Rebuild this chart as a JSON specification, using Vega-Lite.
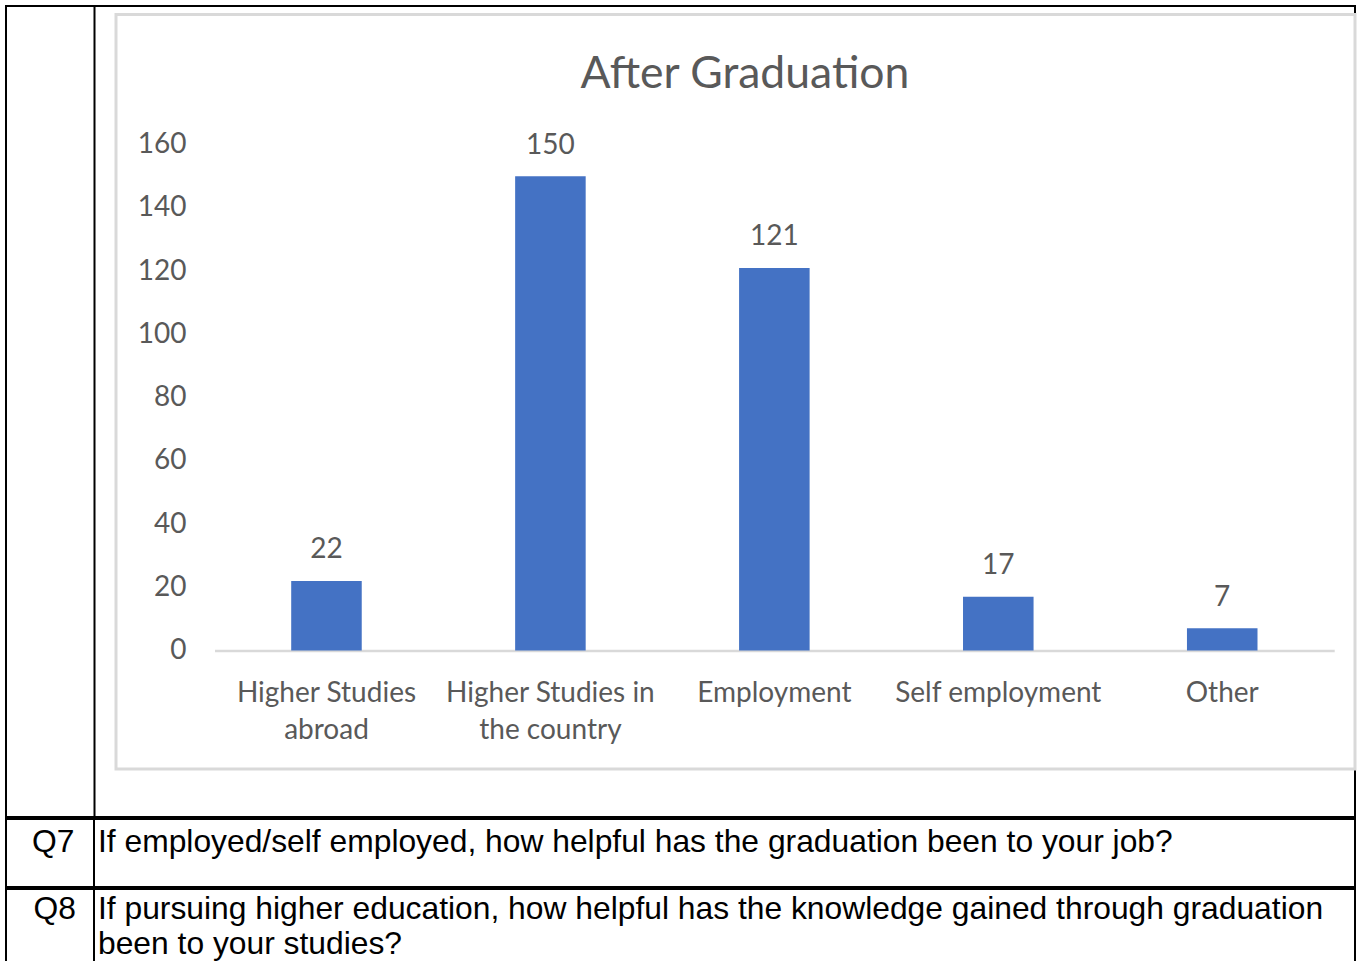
{
  "$schema": "https://vega.github.io/schema/vega-lite/v6.json",
  "padding": {"left": 5, "top": 5, "right": 0, "bottom": 0},
  "spacing": 0,
  "config": {
    "view": {"stroke": "black", "strokeWidth": 2},
    "font": "Lato"
  },
  "vconcat": [
    {
      "width": 1349,
      "height": 811,
      "title": {
        "text": "After Graduation",
        "anchor": "middle",
        "frame": "group",
        "offset": -126,
        "dx": 64.5,
        "baseline": "alphabetic",
        "font": "Lato",
        "fontSize": 44.5,
        "fontWeight": "normal",
        "color": "#595959"
      },
      "resolve": {"scale": {"x": "independent", "y": "independent"}},
      "layer": [
        {
          "data": {"values": [{"part": "chart area"}]},
          "mark": {"type": "rect", "filled": false, "stroke": "#d9d9d9", "strokeWidth": 3},
          "encoding": {
            "x": {"datum": 0, "type": "quantitative", "scale": {"domain": [0, 1], "range": [110, 1349], "zero": false, "nice": false}, "axis": null},
            "x2": {"datum": 1},
            "y": {"datum": 0, "type": "quantitative", "scale": {"domain": [0, 1], "range": [763, 8.5], "zero": false, "nice": false}, "axis": null},
            "y2": {"datum": 1}
          }
        },
        {
          "data": {
            "values": [
              {"category": "Higher Studies abroad", "count": 22},
              {"category": "Higher Studies in the country", "count": 150},
              {"category": "Employment", "count": 121},
              {"category": "Self employment", "count": 17},
              {"category": "Other", "count": 7}
            ]
          },
          "encoding": {
            "x": {
              "field": "category",
              "type": "nominal",
              "sort": null,
              "scale": {"range": [208.5, 1328.2], "paddingInner": 0.685, "paddingOuter": 0.3425},
              "axis": {
                "orient": "bottom",
                "offset": -166.5,
                "title": null,
                "domainColor": "#d9d9d9",
                "domainWidth": 2.5,
                "ticks": false,
                "tickSize": 0,
                "grid": false,
                "labelPadding": 50.5,
                "labelBaseline": "alphabetic",
                "labelAngle": 0,
                "labelFont": "Lato",
                "labelFontSize": 28,
                "labelColor": "#595959",
                "labelLimit": 0,
                "labelOverlap": false,
                "labelLineHeight": 37,
                "labelExpr": "datum.value == 'Higher Studies abroad' ? ['Higher Studies', 'abroad'] : datum.value == 'Higher Studies in the country' ? ['Higher Studies in', 'the country'] : datum.label"
              }
            },
            "y": {
              "field": "count",
              "type": "quantitative",
              "scale": {"domain": [-52.66, 203.83], "nice": false, "zero": false},
              "axis": {
                "orient": "left",
                "offset": -88,
                "values": [0, 20, 40, 60, 80, 100, 120, 140, 160],
                "title": null,
                "domainColor": "black",
                "domainWidth": 2,
                "ticks": false,
                "tickSize": 0,
                "grid": false,
                "labelPadding": -92,
                "labelAlign": "right",
                "labelBaseline": "middle",
                "labelFlush": false,
                "labelOverlap": false,
                "labelFont": "Lato",
                "labelFontSize": 28,
                "labelColor": "#595959"
              }
            }
          },
          "layer": [
            {
              "mark": {"type": "bar", "color": "#4472C4"},
              "encoding": {"y2": {"datum": 0}}
            },
            {
              "mark": {"type": "text", "baseline": "alphabetic", "align": "center", "dy": -22.5, "font": "Lato", "fontSize": 28, "color": "#595959"},
              "encoding": {"text": {"field": "count", "type": "quantitative"}}
            }
          ]
        }
      ]
    },
    {
      "spacing": 0,
      "bounds": "flush",
      "hconcat": [
        {
          "width": 88,
          "height": 68,
          "data": {"values": [{"label": "Q7"}]},
          "mark": {"type": "text", "align": "right", "baseline": "alphabetic", "dx": -19.5, "dy": 33, "font": "Liberation Sans", "fontSize": 31.8, "color": "black"},
          "encoding": {
            "text": {"field": "label"},
            "x": {"datum": 1, "type": "quantitative", "scale": {"domain": [0, 1]}, "axis": null},
            "y": {"datum": 1, "type": "quantitative", "scale": {"domain": [0, 1]}, "axis": null}
          }
        },
        {
          "width": 1261,
          "height": 68,
          "data": {"values": [{"question": "If employed/self employed, how helpful has the graduation been to your job?"}]},
          "mark": {"type": "text", "align": "left", "baseline": "alphabetic", "dx": 4, "dy": 33, "font": "Liberation Sans", "fontSize": 31.8, "color": "black"},
          "encoding": {
            "text": {"field": "question"},
            "x": {"datum": 0, "type": "quantitative", "scale": {"domain": [0, 1]}, "axis": null},
            "y": {"datum": 1, "type": "quantitative", "scale": {"domain": [0, 1]}, "axis": null}
          }
        }
      ]
    },
    {
      "spacing": 0,
      "bounds": "flush",
      "hconcat": [
        {
          "width": 88,
          "height": 90,
          "data": {"values": [{"label": "Q8"}]},
          "mark": {"type": "text", "align": "right", "baseline": "alphabetic", "dx": -18, "dy": 30, "font": "Liberation Sans", "fontSize": 31.8, "color": "black"},
          "encoding": {
            "text": {"field": "label"},
            "x": {"datum": 1, "type": "quantitative", "scale": {"domain": [0, 1]}, "axis": null},
            "y": {"datum": 1, "type": "quantitative", "scale": {"domain": [0, 1]}, "axis": null}
          }
        },
        {
          "width": 1261,
          "height": 90,
          "data": {"values": [{"question": "If pursuing higher education, how helpful has the knowledge gained through graduation\nbeen to your studies?"}]},
          "mark": {"type": "text", "align": "left", "baseline": "alphabetic", "lineBreak": "\n", "lineHeight": 35, "dx": 4, "dy": 30, "font": "Liberation Sans", "fontSize": 31.8, "color": "black"},
          "encoding": {
            "text": {"field": "question"},
            "x": {"datum": 0, "type": "quantitative", "scale": {"domain": [0, 1]}, "axis": null},
            "y": {"datum": 1, "type": "quantitative", "scale": {"domain": [0, 1]}, "axis": null}
          }
        }
      ]
    }
  ]
}
